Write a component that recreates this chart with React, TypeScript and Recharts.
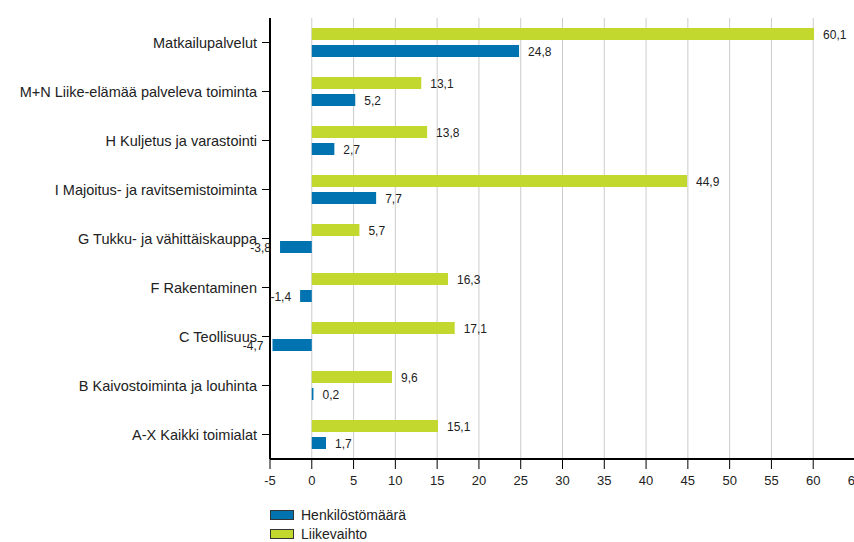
import { BarChart, Bar, XAxis, YAxis, CartesianGrid, LabelList } from 'recharts';

const categories = [
  'Matkailupalvelut',
  'M+N Liike-elämää palveleva toiminta',
  'H Kuljetus ja varastointi',
  'I Majoitus- ja ravitsemistoiminta',
  'G Tukku- ja vähittäiskauppa',
  'F Rakentaminen',
  'C Teollisuus',
  'B Kaivostoiminta ja louhinta',
  'A-X Kaikki toimialat',
];
const liikevaihto = [60.1, 13.1, 13.8, 44.9, 5.7, 16.3, 17.1, 9.6, 15.1];
const henkilosto = [24.8, 5.2, 2.7, 7.7, -3.8, -1.4, -4.7, 0.2, 1.7];
const xTicks = [-5, 0, 5, 10, 15, 20, 25, 30, 35, 40, 45, 50, 55, 60, 65];

const BLUE = '#0073b0';
const GREEN = '#c3d82f';
const FONT = '"Liberation Sans", Arial, sans-serif';

const data = categories.map((name, i) => ({
  name,
  liikevaihto: liikevaihto[i],
  henkilosto: henkilosto[i],
}));

const fmt = (v: number) => v.toFixed(1).replace('.', ',');

// value label: right of the bar end for positives, left of it for negatives
function ValueLabel(props: any) {
  const { x, y, width, height, value } = props;
  const left = Math.min(x, x + width);
  const right = Math.max(x, x + width);
  const neg = value < 0;
  return (
    <text
      x={neg ? left - 9 : right + 9}
      y={y + height / 2 + 1}
      textAnchor={neg ? 'end' : 'start'}
      dominantBaseline="central"
      fontSize={12}
      fontFamily={FONT}
      fill="#222"
    >
      {fmt(value)}
    </text>
  );
}

function LegendBox() {
  const items = [
    { label: 'Henkilöstömäärä', color: BLUE },
    { label: 'Liikevaihto', color: GREEN },
  ];
  return (
    <div style={{ position: 'absolute', left: 270, top: 505, fontFamily: FONT, fontSize: 14, color: '#222' }}>
      {items.map((it) => (
        <div key={it.label} style={{ display: 'flex', alignItems: 'center', height: 19 }}>
          <span
            style={{
              display: 'inline-block',
              width: 22,
              height: 8,
              background: it.color,
              border: '1px solid #333',
              marginRight: 7,
            }}
          />
          {it.label}
        </div>
      ))}
    </div>
  );
}

export default function App() {
  return (
    <div style={{ position: 'relative', width: 854, height: 542, overflow: 'hidden', background: '#fff' }}>
      <style>{'body{margin:0}'}</style>
      <BarChart
        width={875}
        height={542}
        data={data}
        layout="vertical"
        margin={{ top: 18, right: 20, left: 0, bottom: 53 }}
        barSize={12}
        barGap={5}
      >
        <CartesianGrid horizontal={false} stroke="#cccccc" />
        <XAxis
          type="number"
          domain={[-5, 65]}
          ticks={xTicks}
          interval={0}
          height={30}
          tickSize={10}
          tickMargin={7}
          axisLine={{ stroke: '#000', strokeWidth: 2 }}
          tickLine={{ stroke: '#000' }}
          tick={{ fill: '#222', fontSize: 13, fontFamily: FONT }}
        />
        <YAxis
          type="category"
          dataKey="name"
          width={270}
          tickSize={8}
          tickMargin={5}
          axisLine={{ stroke: '#000', strokeWidth: 2 }}
          tickLine={{ stroke: '#000' }}
          tick={{ fill: '#222', fontSize: 14.5, fontFamily: FONT }}
        />
        <Bar dataKey="liikevaihto" name="Liikevaihto" fill={GREEN} isAnimationActive={false}>
          <LabelList dataKey="liikevaihto" content={ValueLabel} />
        </Bar>
        <Bar dataKey="henkilosto" name="Henkilöstömäärä" fill={BLUE} isAnimationActive={false}>
          <LabelList dataKey="henkilosto" content={ValueLabel} />
        </Bar>
      </BarChart>
      <LegendBox />
    </div>
  );
}
